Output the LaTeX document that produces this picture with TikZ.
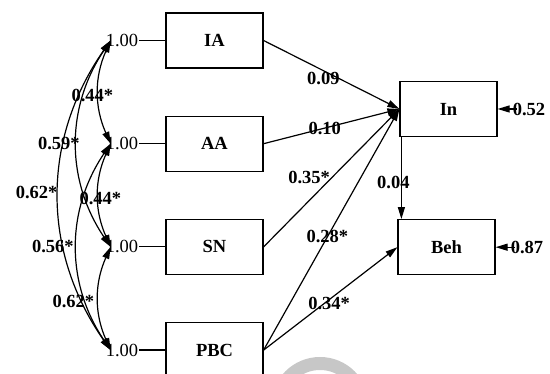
\documentclass[tikz,border=0pt]{standalone}
\usepackage{fontspec}
\setmainfont{Liberation Serif}
\usetikzlibrary{arrows.meta, positioning}
\newcommand{\semfont}{\fontsize{18.5}{20}\selectfont}
\tikzset{
  varbox/.style={rectangle, draw, line width=1.2pt, minimum width=97pt,
                 minimum height=55pt, font=\semfont\bfseries},
  unit/.style={inner sep=1pt, font=\semfont},
  coef/.style={inner sep=1pt, font=\semfont\bfseries},
  arrow/.style={-{Triangle[length=12pt,width=7pt]}, line width=1.2pt},
  cov/.style={{Triangle[length=12pt,width=7pt]}-{Triangle[length=12pt,width=7pt]},
              line width=1.2pt},
}

\begin{document}
\begin{tikzpicture}[x=1pt, y=1pt, node distance=47pt]
  \useasboundingbox (0,0) rectangle (550,374);
  \clip (0,0) rectangle (550,374);
  % watermark
  \fill[black!22, even odd rule] (320,-32) circle (49pt) (320,-32) circle (36pt);

  \node[varbox] (IA) at (214.5,333.5) {IA};
  \node[varbox, below=of IA] (AA) {AA};
  \node[varbox, below=of AA] (SN) {SN};
  \node[varbox, below=of SN] (PBC) {PBC};
  \node[varbox] (In) at (448.5,265) {In};
  \node[varbox, below=82pt of In, xshift=-2pt] (Beh) {Beh};

  % variances of the exogenous variables
  \foreach \v in {IA, AA, SN, PBC} {
    \node[unit, left=26pt of \v] (u\v) {1.00};
    \draw[line width=1.2pt] (u\v) -- (\v);
    \coordinate (c\v) at ([xshift=6pt]u\v.west);
  }

  % covariances
  \foreach \a/\b/\ang/\lab/\dx/\dy in {IA/AA/24/0.44*/-6/-3, IA/SN/34/0.59*/-18/0,
      IA/PBC/35/0.62*/-22/3, AA/SN/24/0.44*/2/-3, AA/PBC/34/0.56*/-24/0,
      SN/PBC/24/0.62*/-25/-3}
    \draw[cov] (c\a) to[bend right=\ang]
      node[coef, xshift=\dx pt, yshift=\dy pt] {\lab} (c\b);

  % paths
  \draw[arrow] (IA.east) -- node[coef, pos=0.44, below] {0.09} (In.west);
  \draw[arrow] (AA.east) -- node[coef, pos=0.45] {0.10} (In.west);
  \draw[arrow] (SN.east) -- node[coef, pos=0.5, left] {0.35*} (In.west);
  \draw[arrow] (PBC.east) -- node[coef, pos=0.47] {0.28*} (In.west);
  \draw[arrow] (PBC.east) -- node[coef, pos=0.49, yshift=-4pt] {0.34*} (Beh.west);
  \draw[arrow] ([xshift=2pt]In.south west) --
    node[coef, pos=0.55, xshift=-8pt] {0.04} ([xshift=2pt]In.south west |- Beh.north);

  % residuals
  \node[coef, right=14pt of In] (eIn) {0.52};
  \node[coef, right=14pt of Beh] (eBeh) {0.87};
  \draw[arrow] ([xshift=5pt]eIn.west) -- (In.east);
  \draw[arrow] ([xshift=5pt]eBeh.west) -- (Beh.east);
\end{tikzpicture}
\end{document}
